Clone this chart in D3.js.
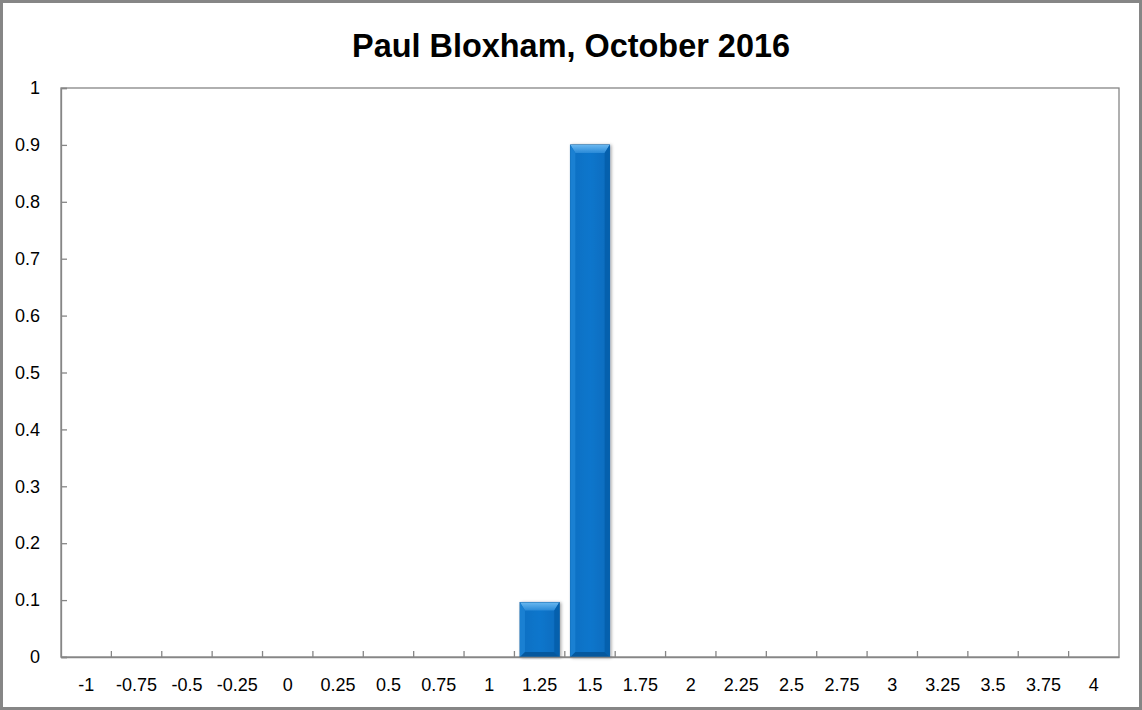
<!DOCTYPE html>
<html>
<head>
<meta charset="utf-8">
<script src="https://cdn.jsdelivr.net/npm/d3@7"></script>
<style>
  html, body { margin: 0; padding: 0; background: #fff; }
  svg { display: block; }
</style>
</head>
<body>
<div id="chart"></div>
<script>
const title = 'Paul Bloxham, October 2016';
const categories = ['-1', '-0.75', '-0.5', '-0.25', '0', '0.25', '0.5', '0.75', '1', '1.25', '1.5',
  '1.75', '2', '2.25', '2.5', '2.75', '3', '3.25', '3.5', '3.75', '4'];
const values = [0, 0, 0, 0, 0, 0, 0, 0, 0, 0.096, 0.9, 0, 0, 0, 0, 0, 0, 0, 0, 0, 0];
const yTicks = [0, 0.1, 0.2, 0.3, 0.4, 0.5, 0.6, 0.7, 0.8, 0.9, 1];

const W = 1142, H = 710;
const margin = { top: 88, right: 23, bottom: 53, left: 61 };
const width = W - margin.left - margin.right;
const height = H - margin.top - margin.bottom;
const axisColor = '#868686';
const font = '"Liberation Sans", Arial, sans-serif';

const svg = d3.select('#chart').append('svg')
  .attr('width', W).attr('height', H);

// outer chart border
svg.append('rect')
  .attr('x', 1.5).attr('y', 1.5)
  .attr('width', W - 3).attr('height', H - 3)
  .attr('fill', '#fff').attr('stroke', axisColor).attr('stroke-width', 3);

// title
svg.append('text')
  .attr('x', 571).attr('y', 57)
  .attr('text-anchor', 'middle')
  .attr('font-family', font).attr('font-weight', 'bold')
  .attr('font-size', 33)
  .attr('textLength', 438).attr('lengthAdjust', 'spacingAndGlyphs')
  .attr('fill', '#000')
  .text(title);

const g = svg.append('g')
  .attr('transform', `translate(${margin.left},${margin.top})`);

const x = d3.scaleBand().domain(categories).range([0, width]).paddingInner(0.22).paddingOuter(0.11);
const xb = d3.scaleBand().domain(categories).range([0, width]);
const y = d3.scaleLinear().domain([0, 1]).range([height, 0]);

// plot area border
g.append('rect')
  .attr('x', 0).attr('y', 0).attr('width', width).attr('height', height)
  .attr('fill', 'none').attr('stroke', axisColor).attr('stroke-width', 1.3);

// gradients for bevel
const defs = svg.append('defs');
const topGrad = defs.append('linearGradient').attr('id', 'topBevel')
  .attr('x1', 0).attr('y1', 0).attr('x2', 0).attr('y2', 1);
topGrad.append('stop').attr('offset', '0%').attr('stop-color', '#6ab8f0');
topGrad.append('stop').attr('offset', '100%').attr('stop-color', '#2a8ad8');
const bodyGrad = defs.append('linearGradient').attr('id', 'bodyGrad')
  .attr('x1', 0).attr('y1', 0).attr('x2', 1).attr('y2', 0);
bodyGrad.append('stop').attr('offset', '0%').attr('stop-color', '#0a6fc2');
bodyGrad.append('stop').attr('offset', '50%').attr('stop-color', '#0a76cc');
bodyGrad.append('stop').attr('offset', '100%').attr('stop-color', '#086bbd');
const shadow = defs.append('filter').attr('id', 'shadow')
  .attr('x', '-20%').attr('y', '-5%').attr('width', '140%').attr('height', '110%');
shadow.append('feDropShadow').attr('dx', 1.5).attr('dy', 0.5).attr('stdDeviation', 1.5)
  .attr('flood-color', '#000').attr('flood-opacity', 0.35);

// bars
const bars = g.selectAll('.bar')
  .data(categories.map((c, i) => ({ c, v: values[i] })).filter(d => d.v > 0))
  .enter().append('g').attr('class', 'bar');

const bev = 5;
bars.append('rect')
  .attr('x', d => x(d.c)).attr('y', d => y(d.v))
  .attr('width', x.bandwidth()).attr('height', d => y(0) - y(d.v))
  .attr('fill', 'url(#bodyGrad)').attr('stroke', '#0558a0').attr('stroke-width', 0.8)
  .attr('filter', 'url(#shadow)');

// top bevel
bars.append('path')
  .attr('d', d => {
    const x0 = x(d.c), x1 = x0 + x.bandwidth(), y0 = y(d.v);
    return `M${x0},${y0}L${x1},${y0}L${x1 - bev},${y0 + bev * 1.6}L${x0 + bev},${y0 + bev * 1.6}Z`;
  })
  .attr('fill', 'url(#topBevel)');
// left bevel
bars.append('path')
  .attr('d', d => {
    const x0 = x(d.c), y0 = y(d.v), y1 = y(0);
    return `M${x0},${y0}L${x0 + bev},${y0 + bev * 1.6}L${x0 + bev},${y1 - bev}L${x0},${y1}Z`;
  })
  .attr('fill', '#1a80d2');
// right bevel
bars.append('path')
  .attr('d', d => {
    const x1 = x(d.c) + x.bandwidth(), y0 = y(d.v), y1 = y(0);
    return `M${x1},${y0}L${x1 - bev},${y0 + bev * 1.6}L${x1 - bev},${y1 - bev}L${x1},${y1}Z`;
  })
  .attr('fill', '#0560ad');
// bottom bevel
bars.append('path')
  .attr('d', d => {
    const x0 = x(d.c), x1 = x0 + x.bandwidth(), y1 = y(0);
    return `M${x0},${y1}L${x0 + bev},${y1 - bev}L${x1 - bev},${y1 - bev}L${x1},${y1}Z`;
  })
  .attr('fill', '#05589e');

// Y axis
const yAxis = g.append('g')
  .call(d3.axisLeft(y).tickValues(yTicks).tickSize(-6).tickPadding(21)
    .tickFormat(d => d3.format('')(+d.toFixed(1))));
yAxis.select('.domain').attr('stroke', axisColor).attr('stroke-width', 1.3);
yAxis.selectAll('line').attr('stroke', axisColor).attr('stroke-width', 1.3);
yAxis.selectAll('text').attr('font-family', font).attr('font-size', 18).attr('fill', '#000');

// X axis: ticks at category boundaries
const xAxis = g.append('g').attr('transform', `translate(0,${height})`)
  .call(d3.axisBottom(x).tickSize(0).tickPadding(21));
xAxis.select('.domain').attr('stroke', axisColor).attr('stroke-width', 1.3);
xAxis.selectAll('text').attr('font-family', font).attr('font-size', 18).attr('fill', '#000');

g.append('g').selectAll('line')
  .data(categories.slice(1))
  .enter().append('line')
  .attr('x1', d => xb(d)).attr('x2', d => xb(d))
  .attr('y1', height).attr('y2', height - 6)
  .attr('stroke', axisColor).attr('stroke-width', 1.3);
</script>
</body>
</html>
